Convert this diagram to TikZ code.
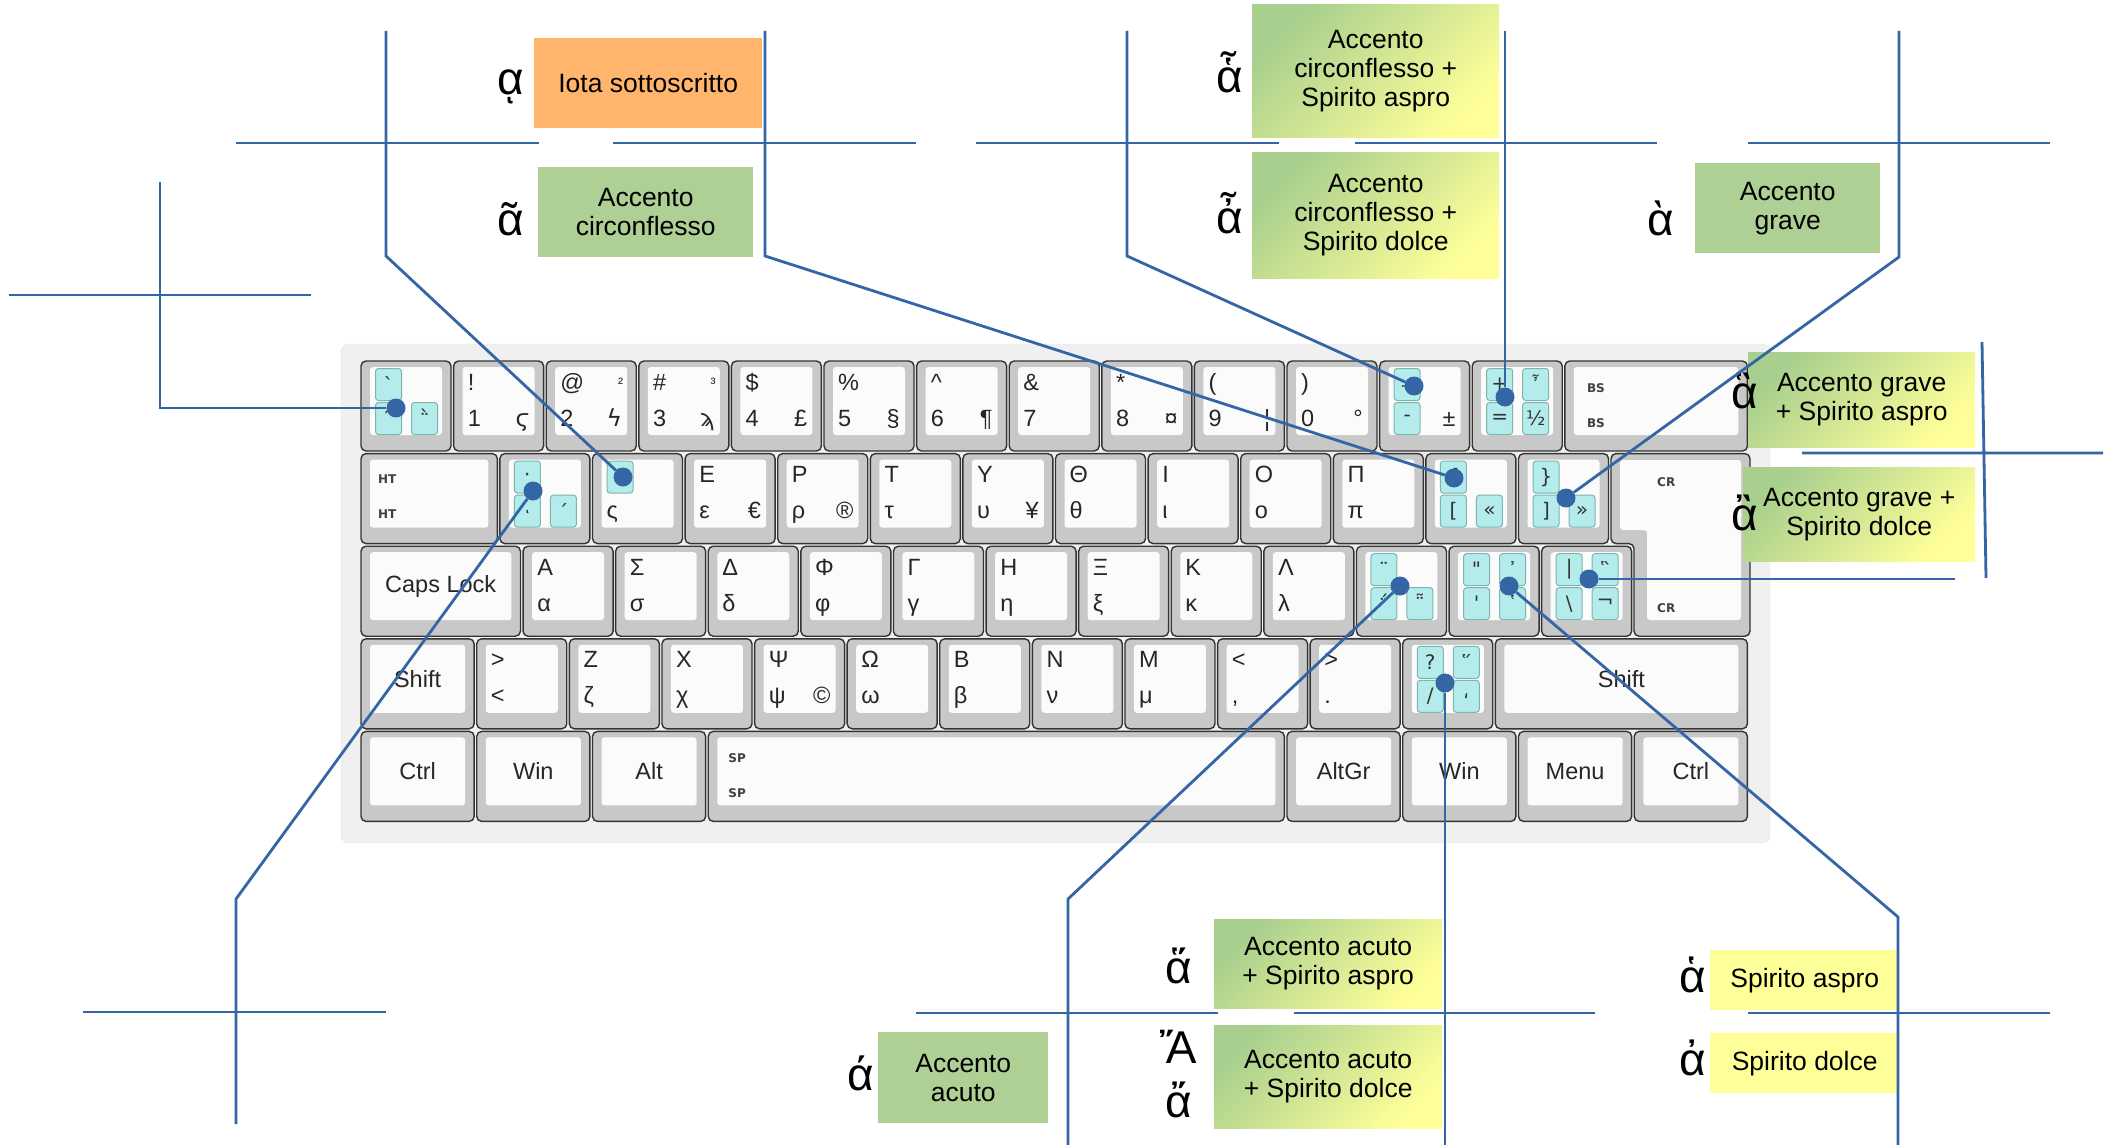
\documentclass[tikz,border=0pt]{standalone}
\usepackage{fontspec}
\setmainfont{Liberation Sans}
\newfontfamily\dejavu{DejaVu Sans}
\usetikzlibrary{positioning, calc}

\definecolor{lineblue}{HTML}{3465A4}
\definecolor{boxgreen}{HTML}{AFD095}
\definecolor{gradgreen}{HTML}{A8CF8E}
\definecolor{boxorange}{HTML}{FFB66C}
\definecolor{boxyellow}{HTML}{FFFF99}
\definecolor{cyanfill}{HTML}{B4ECEC}
\definecolor{cyanline}{HTML}{7DB5AC}
\definecolor{keygray}{HTML}{C8C8C8}
\definecolor{facewhite}{HTML}{FBFBFB}
\definecolor{boardgray}{HTML}{F0F0F0}

\newcommand{\labfont}{\fontsize{26.5}{29}\selectfont}
\newcommand{\symfont}{\fontsize{46}{46}\selectfont}
\newcommand{\keyfont}{\fontsize{23.5}{24}\selectfont}
\newcommand{\supfont}{\fontsize{15}{15}\selectfont}
\newcommand{\deadfont}{\fontsize{20}{20}\selectfont\dejavu}
\newcommand{\tagfont}{\fontsize{12}{12}\selectfont\dejavu\bfseries}

% one key: name, start column (key units), top edge, width (key units)
\newcommand{\kbkey}[4]{%
  \node[keycap, minimum width={(#4)*92.6-2.6}] (#1) at ({361+(#2)*92.6}, #3) {};
  \node[keyface, minimum width={(#4)*92.6-20.6}] (face-#1) at ({370+(#2)*92.6}, #3+6) {};
}
% legends: key, shifted, base, AltGr
\newcommand{\kleg}[4]{%
  \node[keylegend, anchor=base west] (#1-tl) at ($(#1.north west)+(14,29)$) {#2};
  \node[keylegend, anchor=base west] (#1-bl) at ($(#1.north west)+(14,65)$) {#3};
  \node[keylegend, anchor=base east] (#1-br) at ($(#1.north east)+(-14,65)$) {#4};
}
% cyan dead key box: key, quadrant, glyph
\newcommand{\deadkey}[3]{%
  \node[deadbox, #2] (#1-#2) at (#1.north west) {#3};
}

\begin{document}
\begin{tikzpicture}[x=1pt, y=-1pt,
    keycap/.style={rectangle, draw=black!80, fill=keygray, line width=1.4, rounded corners=5, minimum height=90, inner sep=0, outer sep=0, anchor=north west},
    keyface/.style={rectangle, fill=facewhite, rounded corners=3, minimum height=68, inner sep=0, outer sep=0, anchor=north west},
    keylegend/.style={font=\keyfont, text=black!85, inner sep=0},
    keytag/.style={font=\tagfont, text=black!75, inner sep=0, anchor=west},
    deadbox/.style={rectangle, draw=cyanline, fill=cyanfill, rounded corners=3, line width=1, minimum width=26, minimum height=32, inner sep=0, anchor=north west, font=\deadfont, text=black!80},
    qtl/.style={xshift=14, yshift=-7},
    qtr/.style={xshift=50, yshift=-7},
    qbl/.style={xshift=14, yshift=-41},
    qbr/.style={xshift=50, yshift=-41},
    labelbox/.style={rectangle, inner sep=2, anchor=north west, align=center, font=\labfont},
    greenbox/.style={labelbox, fill=boxgreen},
    orangebox/.style={labelbox, fill=boxorange},
    yellowbox/.style={labelbox, fill=boxyellow},
    gradbox/.style={labelbox, top color=gradgreen, bottom color=boxyellow, shading angle=45},
    accsym/.style={font=\symfont, anchor=base, inner sep=0},
    bluedot/.style={circle, fill=lineblue, minimum size=19, inner sep=0},
    leader/.style={draw=lineblue, line width=2.8}
  ]
  \useasboundingbox (0,0) rectangle (2111,1145);
  \fill[white] (0,0) rectangle (2111,1145);

  % Keyboard
  \draw[fill=boardgray, draw=black!10, rounded corners=8] (341,344) rectangle (1770,843);

  \foreach \i in {1,...,13} {\kbkey{k1-\i}{\i-1}{361}{1}}
  \kbkey{k1-14}{13}{361}{2}
  \kbkey{k2-1}{0}{453.6}{1.5}
  \foreach \i in {2,...,13} {\kbkey{k2-\i}{\i-0.5}{453.6}{1}}
  \kbkey{k3-1}{0}{546.2}{1.75}
  \foreach \i in {2,...,13} {\kbkey{k3-\i}{\i-0.25}{546.2}{1}}
  \kbkey{k4-1}{0}{638.8}{1.25}
  \foreach \i in {2,...,12} {\kbkey{k4-\i}{\i-0.75}{638.8}{1}}
  \kbkey{k4-13}{12.25}{638.8}{2.75}
  \foreach \s/\w [count=\i] in {0/1.25, 1.25/1.25, 2.5/1.25, 3.75/6.25, 10/1.25, 11.25/1.25, 12.5/1.25, 13.75/1.25} {\kbkey{k5-\i}{\s}{731.4}{\w}}

  % Enter key
  \draw[draw=black!80, fill=keygray, line width=1.4, rounded corners=5] (1611,453.6) -- (1750,453.6) -- (1750,636.2) -- (1634,636.2) -- (1634,543.6) -- (1611,543.6) -- cycle;
  \fill[facewhite, rounded corners=3] (1620,460) -- (1741,460) -- (1741,620) -- (1647,620) -- (1647,530) -- (1620,530) -- cycle;

  % Legends
  \foreach \shf/\bas/\agr [count=\i from 2] in {!/1/{\dejavu ϛ}, @/2/{\dejavu ϟ}, \#/3/{\dejavu ϡ}, \$/4/£, \%/5/§, \textasciicircum/6/¶, \&/7/{}, */8/¤, {(}/9/¦, {)}/0/°}
    {\kleg{k1-\i}{\shf}{\bas}{\agr}}
  \node[keylegend, font=\supfont, anchor=base east] (k1-3-tr) at ($(k1-3.north east)+(-13,27)$) {²};
  \node[keylegend, font=\supfont, anchor=base east] (k1-4-tr) at ($(k1-4.north east)+(-13,27)$) {³};
  \node[keylegend, anchor=base east] (k1-12-br) at ($(k1-12.north east)+(-14,65)$) {±};
  \kleg{k2-3}{}{ς}{}
  \foreach \shf/\bas/\agr [count=\i from 4] in {Ε/ε/€, Ρ/ρ/®, Τ/τ/{}, Υ/υ/¥, Θ/θ/{}, Ι/ι/{}, Ο/ο/{}, Π/π/{}}
    {\kleg{k2-\i}{\shf}{\bas}{\agr}}
  \foreach \shf/\bas [count=\i from 2] in {Α/α, Σ/σ, Δ/δ, Φ/φ, Γ/γ, Η/η, Ξ/ξ, Κ/κ, Λ/λ}
    {\kleg{k3-\i}{\shf}{\bas}{}}
  \foreach \shf/\bas/\agr [count=\i from 2] in {>/</{}, Ζ/ζ/{}, Χ/χ/{}, Ψ/ψ/©, Ω/ω/{}, Β/β/{}, Ν/ν/{}, Μ/μ/{}, </{,}/{}, >/./{}}
    {\kleg{k4-\i}{\shf}{\bas}{\agr}}
  \node[keylegend] (k3-1-t) at (face-k3-1.center) {Caps Lock};
  \node[keylegend] (k4-1-t) at (face-k4-1.center) {Shift};
  \node[keylegend] (k4-13-t) at (face-k4-13.center) {Shift};
  \foreach \t [count=\i] in {Ctrl, Win, Alt, {}, AltGr, Win, Menu, Ctrl}
    {\node[keylegend] (k5-\i-t) at (face-k5-\i.center) {\t};}
  \node[keytag] (ht-a) at ($(k2-1.north west)+(17,26)$) {HT};
  \node[keytag] (ht-b) at ($(k2-1.north west)+(17,61)$) {HT};
  \node[keytag] (bs-a) at ($(k1-14.north west)+(22,27)$) {BS};
  \node[keytag] (bs-b) at ($(k1-14.north west)+(22,62)$) {BS};
  \node[keytag] (cr-a) at (1657,482) {CR};
  \node[keytag] (cr-b) at (1657,608) {CR};
  \node[keytag] (sp-a) at ($(k5-4.north west)+(20,27)$) {SP};
  \node[keytag] (sp-b) at ($(k5-4.north west)+(20,62)$) {SP};

  % Dead keys
  \deadkey{k1-1}{qtl}{`}
  \deadkey{k1-1}{qbl}{῀}
  \deadkey{k1-1}{qbr}{῭}
  \deadkey{k1-12}{qtl}{\_}
  \deadkey{k1-12}{qbl}{-}
  \deadkey{k1-13}{qtl}{+}
  \deadkey{k1-13}{qtr}{῏}
  \deadkey{k1-13}{qbl}{=}
  \deadkey{k1-13}{qbr}{½}
  \deadkey{k2-2}{qtl}{·}
  \deadkey{k2-2}{qbl}{ͺ}
  \deadkey{k2-2}{qbr}{΄}
  \deadkey{k2-3}{qtl}{῀}
  \deadkey{k2-12}{qtl}{\{}
  \deadkey{k2-12}{qbl}{[}
  \deadkey{k2-12}{qbr}{«}
  \deadkey{k2-13}{qtl}{\}}
  \deadkey{k2-13}{qbl}{]}
  \deadkey{k2-13}{qbr}{»}
  \deadkey{k3-11}{qtl}{¨}
  \deadkey{k3-11}{qbl}{΅}
  \deadkey{k3-11}{qbr}{῁}
  \deadkey{k3-12}{qtl}{"}
  \deadkey{k3-12}{qtr}{᾿}
  \deadkey{k3-12}{qbl}{'}
  \deadkey{k3-12}{qbr}{῾}
  \deadkey{k3-13}{qtl}{|}
  \deadkey{k3-13}{qtr}{῝}
  \deadkey{k3-13}{qbl}{\textbackslash}
  \deadkey{k3-13}{qbr}{¬}
  \deadkey{k4-12}{qtl}{?}
  \deadkey{k4-12}{qtr}{῞}
  \deadkey{k4-12}{qbl}{/}
  \deadkey{k4-12}{qbr}{͵}

  % Labels
  \node[orangebox, minimum width=228, minimum height=90] (iota) at (534,38) {Iota sottoscritto};
  \node[greenbox, minimum width=215, minimum height=90] (circ) at (538,167) {Accento\\circonflesso};
  \node[gradbox, minimum width=247, minimum height=133] (circasp) at (1252,4) {Accento\\circonflesso +\\Spirito aspro};
  \node[gradbox, minimum width=247, minimum height=126] (circdol) at (1252,152) {Accento\\circonflesso +\\Spirito dolce};
  \node[greenbox, minimum width=185, minimum height=90] (grave) at (1695,163) {Accento\\grave};
  \node[gradbox, minimum width=227, minimum height=95] (graveasp) at (1748,352) {Accento grave\\+ Spirito aspro};
  \node[gradbox, minimum width=232, minimum height=94] (gravedol) at (1743,467) {Accento grave +\\Spirito dolce};
  \node[gradbox, minimum width=228, minimum height=89] (acuasp) at (1214,919) {Accento acuto\\+ Spirito aspro};
  \node[gradbox, minimum width=228, minimum height=103] (acudol) at (1214,1025) {Accento acuto\\+ Spirito dolce};
  \node[greenbox, minimum width=170, minimum height=91] (acuto) at (878,1032) {Accento\\acuto};
  \node[yellowbox, minimum width=189, minimum height=60] (spasp) at (1710,950) {Spirito aspro};
  \node[yellowbox, minimum width=189, minimum height=60] (spdol) at (1710,1033) {Spirito dolce};

  \node[accsym] (s-iota) at (511,95) {ᾳ};
  \node[accsym] (s-circ) at (511,235) {ᾶ};
  \node[accsym] (s-circasp) at (1230,93) {ἇ};
  \node[accsym] (s-circdol) at (1230,233) {ἆ};
  \node[accsym] (s-grave) at (1661,235) {ὰ};
  \node[accsym] (s-graveasp) at (1745,408) {ἃ};
  \node[accsym] (s-gravedol) at (1745,530) {ἂ};
  \node[accsym] (s-acuasp) at (1179,983) {ἅ};
  \node[accsym] (s-capacudol) at (1178,1063) {Ἄ};
  \node[accsym] (s-acudol) at (1179,1117) {ἄ};
  \node[accsym] (s-acuto) at (861,1090) {ά};
  \node[accsym] (s-spasp) at (1693,992) {ἁ};
  \node[accsym] (s-spdol) at (1693,1075) {ἀ};

  % Dots
  \node[bluedot] (dot1-1) at (396,408) {};
  \node[bluedot] (dot2-2) at (533,491) {};
  \node[bluedot] (dot2-3) at (623,477) {};
  \node[bluedot] (dot1-12) at (1414,386) {};
  \node[bluedot] (dot1-13) at (1505,397) {};
  \node[bluedot] (dot2-12) at (1454,478) {};
  \node[bluedot] (dot2-13) at (1566,498) {};
  \node[bluedot] (dot3-11) at (1400,586) {};
  \node[bluedot] (dot3-12) at (1509,586) {};
  \node[bluedot] (dot3-13) at (1589,579) {};
  \node[bluedot] (dot4-12) at (1445,683) {};

  % Lines
  \draw[leader] (9,295) -- (311,295);
  \draw[leader] (160,182) |- (dot1-1);
  \draw[leader] (236,143) -- (539,143) (613,143) -- (916,143);
  \draw[leader] (386,31) -- (386,256) -- (dot2-3);
  \draw[leader] (765,31) -- (765,256) -- (dot2-12);
  \draw[leader] (976,143) -- (1279,143) (1355,143) -- (1657,143);
  \draw[leader] (1127,31) -- (1127,256) -- (dot1-12);
  \draw[leader] (1505,31) -- (dot1-13);
  \draw[leader] (1748,143) -- (2050,143);
  \draw[leader] (1899,31) -- (1899,257) -- (dot2-13);
  \draw[leader] (1982,342) -- (1986,578) (1802,453) -- (2103,453);
  \draw[leader] (dot3-13) -- (1955,579);
  \draw[leader] (83,1012) -- (386,1012);
  \draw[leader] (236,1124) -- (236,899) -- (dot2-2);
  \draw[leader] (916,1013) -- (1218,1013) (1294,1013) -- (1595,1013);
  \draw[leader] (1068,1145) -- (1068,899) -- (dot3-11);
  \draw[leader] (dot4-12) -- (1445,1145);
  \draw[leader] (1748,1013) -- (2050,1013);
  \draw[leader] (dot3-12) -- (1898,917) -- (1898,1145);
\end{tikzpicture}
\end{document}
